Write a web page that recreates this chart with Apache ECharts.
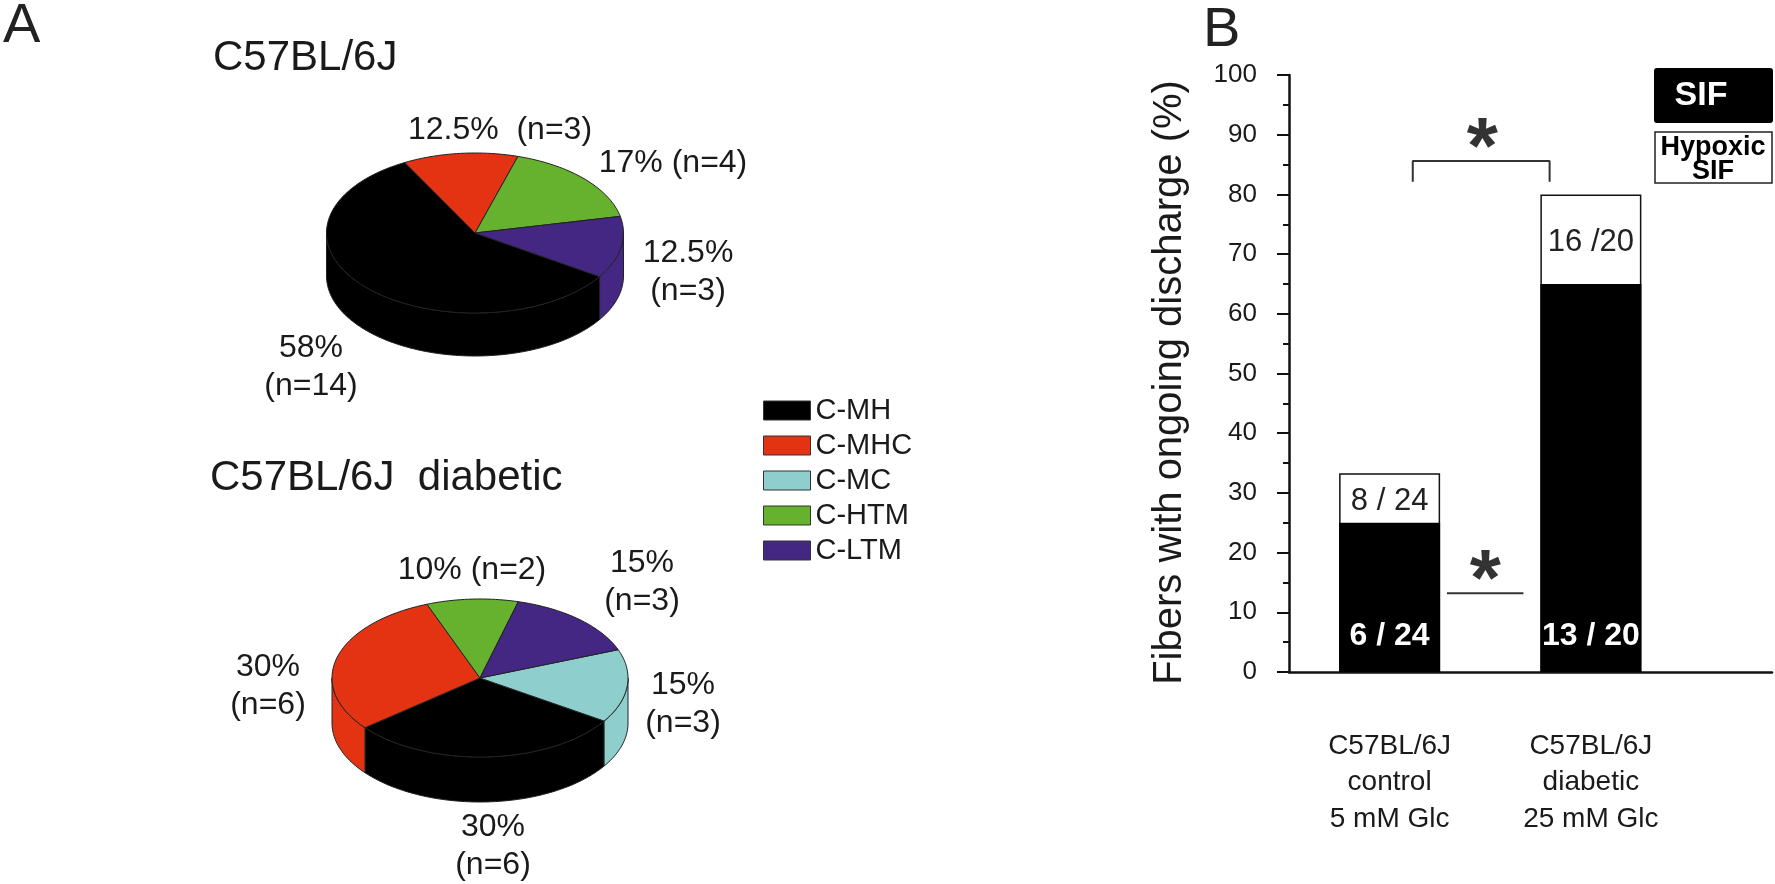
<!DOCTYPE html>
<html><head><meta charset="utf-8">
<script src="https://cdn.jsdelivr.net/npm/echarts@6/dist/echarts.min.js"></script>
<style>html,body{margin:0;padding:0;background:#fff}#main{width:1775px;height:884px}</style>
</head><body><div id="main"></div>
<script>
// ---------------- DATA ----------------
const pieCategories = ['C-MH', 'C-MHC', 'C-MC', 'C-HTM', 'C-LTM'];
const sliceOrder = ['C-MH', 'C-MHC', 'C-HTM', 'C-LTM', 'C-MC']; // clockwise drawing order
const pie1Title = 'C57BL/6J';
const pie1Pct = [58, 12.5, 0, 17, 12.5];
const pie1N = [14, 3, 0, 4, 3];
const pie2Title = 'C57BL/6J  diabetic';
const pie2Pct = [30, 30, 15, 10, 15];
const pie2N = [6, 6, 3, 2, 3];

const barGroups = ['C57BL/6J\ncontrol\n5 mM Glc', 'C57BL/6J\ndiabetic\n25 mM Glc'];
const barPositions = [1, 3];
const hypoxicSIF = [33.3, 80];
const sif = [25, 65];
const sifLabels = ['6 / 24', '13 / 20'];
const hypoxicLabels = ['8 / 24', '16 /20'];
const barSeriesNames = ['SIF', 'Hypoxic\nSIF'];
const yAxisTitle = 'Fibers with ongoing discharge (%)';
const sigBracket = [[1.23, 82.1], [1.23, 85.6], [2.59, 85.6], [2.59, 82.1]];
const sigLine = [[1.57, 13.2], [2.33, 13.2]];
const sigStars = [[1.92, 90.3], [1.95, 17.9]];
const panelLetters = ['A', 'B'];

// ---------------- STYLE / LAYOUT ----------------
const FONT = '"Liberation Sans", Arial, Helvetica, sans-serif';
const TXT = '#1a1a1a';
const pieColors = ['#000000', '#e33312', '#8ecfcd', '#66b22f', '#442683'];
const pie1Geom = { cx: 475, cy: 233, rx: 148.5, ry: 80, depth: 43, start: -33 };
const pie2Geom = { cx: 480, cy: 678, rx: 148, ry: 79, depth: 45, start: -33 };
const pie1LabelPos = {
  'C-MH': { x: 311, y: 329, sep: '\n' },
  'C-MHC': { x: 500, y: 111, sep: '  ' },
  'C-HTM': { x: 673, y: 144, sep: ' ' },
  'C-LTM': { x: 688, y: 234, sep: '\n' },
  'C-MC': { x: 0, y: 0, sep: ' ' }
};
const pie2LabelPos = {
  'C-MH': { x: 493, y: 808, sep: '\n' },
  'C-MHC': { x: 268, y: 648, sep: '\n' },
  'C-HTM': { x: 472, y: 551, sep: ' ' },
  'C-LTM': { x: 642, y: 544, sep: '\n' },
  'C-MC': { x: 683, y: 666, sep: '\n' }
};
const hypLabelDist = [13, 33];
const STAR_FS = 80;

function makePie(g, pct, nArr, labelPos) {
  const total = pct.reduce((a, b) => a + b, 0);
  const ang = {};
  let a = g.start;
  sliceOrder.forEach(name => {
    const i = pieCategories.indexOf(name);
    const sweep = pct[i] / total * 360;
    ang[i] = [a, a - sweep];
    a -= sweep;
  });
  const pt = (t, dy) => [g.cx + g.rx * Math.cos(t * Math.PI / 180), g.cy - g.ry * Math.sin(t * Math.PI / 180) + dy];
  const arc = (s, e, dy) => {
    const pts = [];
    const n = Math.max(2, Math.ceil(Math.abs(s - e) / 1.5));
    for (let k = 0; k <= n; k++) pts.push(pt(s + (e - s) * k / n, dy));
    return pts;
  };
  return {
    type: 'custom', coordinateSystem: 'none', silent: true, z: 3,
    data: pct.map((v, i) => ({ name: pieCategories[i], value: v })),
    renderItem: (params, api) => {
      const i = params.dataIndex;
      if (!pct[i]) return null;
      const [s, e] = ang[i];
      const col = pieColors[i];
      const children = [];
      [-1, 0, 1].forEach(k => {
        const fs = Math.min(s, 360 * k), fe = Math.max(e, -180 + 360 * k);
        if (fs > fe) {
          const top = arc(fs, fe, 0), bot = arc(fe, fs, g.depth);
          children.push({ type: 'polygon', shape: { points: top.concat(bot) },
            style: { fill: col, stroke: '#222', lineWidth: 1 } });
        }
      });
      children.push({ type: 'polygon', shape: { points: [[g.cx, g.cy]].concat(arc(s, e, 0)) },
        style: { fill: col, stroke: '#222', lineWidth: 1 } });
      const L = labelPos[pieCategories[i]];
      children.push({ type: 'text', style: {
        text: pct[i] + '%' + L.sep + '(n=' + nArr[i] + ')', x: L.x, y: L.y,
        align: 'center', verticalAlign: 'top', fontSize: 32, lineHeight: 38,
        fontFamily: FONT, fill: TXT } });
      return { type: 'group', children };
    }
  };
}

const chart = echarts.init(document.getElementById('main'), null, { renderer: 'canvas' });

const legendSeries = pieCategories.map((name, i) => ({
  type: 'custom', name, coordinateSystem: 'none', data: [], renderItem: () => null,
  itemStyle: { color: pieColors[i] }
}));

const option = {
  backgroundColor: '#fff',
  animation: false,
  textStyle: { fontFamily: FONT },
  legend: {
    data: pieCategories, orient: 'vertical', left: 758, top: 391,
    itemWidth: 47, itemHeight: 19, itemGap: 6, icon: 'rect', selectedMode: false,
    itemStyle: { borderColor: '#333', borderWidth: 1 },
    textStyle: { fontSize: 29, lineHeight: 20, color: TXT, fontFamily: FONT }
  },
  grid: { left: 1289, right: 3, top: 75, bottom: 212, containLabel: false },
  xAxis: {
    type: 'value', min: 0, max: 4.8, interval: 1,
    axisLine: { show: true, lineStyle: { color: '#111', width: 2.5 } },
    axisTick: { show: false }, splitLine: { show: false },
    axisLabel: {
      show: true, margin: 56, fontSize: 28, lineHeight: 36.5, color: TXT, fontFamily: FONT,
      showMinLabel: true, showMaxLabel: true,
      formatter: v => { const k = barPositions.indexOf(v); return k >= 0 ? barGroups[k] : ''; }
    }
  },
  yAxis: {
    type: 'value', min: 0, max: 100, interval: 10,
    name: yAxisTitle, nameLocation: 'middle', nameGap: 99, nameRotate: 90,
    nameTextStyle: { fontSize: 40, color: TXT, fontFamily: FONT, padding: [0, 18, 0, 0] },
    axisLine: { show: true, lineStyle: { color: '#111', width: 2.5 } },
    axisTick: { show: true, length: 12, lineStyle: { color: '#111', width: 2 } },
    minorTick: { show: true, splitNumber: 2, length: 6, lineStyle: { color: '#111', width: 2 } },
    splitLine: { show: false },
    axisLabel: { margin: 32, fontSize: 26, color: TXT, fontFamily: FONT }
  },
  graphic: [
    { type: 'text', style: { text: panelLetters[0], x: 3, y: 27, verticalAlign: 'middle', fontSize: 56, fill: '#222', fontFamily: FONT } },
    { type: 'text', style: { text: panelLetters[1], x: 1203, y: 31, verticalAlign: 'middle', fontSize: 56, fill: '#222', fontFamily: FONT } },
    { type: 'text', style: { text: pie1Title, x: 213, y: 58, verticalAlign: 'middle', fontSize: 42, fill: TXT, fontFamily: FONT } },
    { type: 'text', style: { text: pie2Title, x: 210, y: 478, verticalAlign: 'middle', fontSize: 42, fill: TXT, fontFamily: FONT } },
    { type: 'rect', shape: { x: 1654, y: 68, width: 119, height: 55, r: 3 }, style: { fill: '#000' } },
    { type: 'text', style: { text: barSeriesNames[0], x: 1701, y: 96, align: 'center', verticalAlign: 'middle', fontSize: 34, fontWeight: 'bold', fill: '#fff', fontFamily: FONT } },
    { type: 'rect', shape: { x: 1655, y: 132, width: 117, height: 51 }, style: { fill: '#fff', stroke: '#222', lineWidth: 1.5 } },
    { type: 'text', style: { text: barSeriesNames[1], x: 1713, y: 160, align: 'center', verticalAlign: 'middle', fontSize: 27, lineHeight: 24, fontWeight: 'bold', fill: '#000', fontFamily: FONT } }
  ],
  series: [
    makePie(pie1Geom, pie1Pct, pie1N, pie1LabelPos),
    makePie(pie2Geom, pie2Pct, pie2N, pie2LabelPos),
    ...legendSeries,
    {
      type: 'bar', name: barSeriesNames[1], barWidth: 101, barGap: '-100%', z: 2,
      data: barPositions.map((x, i) => ({ value: [x, hypoxicSIF[i]], label: { distance: hypLabelDist[i] } })),
      itemStyle: { color: '#fff', borderColor: '#111', borderWidth: 1.5 },
      label: { show: true, position: 'insideTop', fontSize: 31, color: '#222', fontFamily: FONT,
        formatter: p => hypoxicLabels[p.dataIndex] }
    },
    {
      type: 'bar', name: barSeriesNames[0], barWidth: 101, barGap: '-100%', z: 3,
      data: barPositions.map((x, i) => [x, sif[i]]),
      itemStyle: { color: '#000' },
      label: { show: true, position: 'insideBottom', distance: 20, fontSize: 32, fontWeight: 'bold',
        color: '#fff', fontFamily: FONT, formatter: p => sifLabels[p.dataIndex] }
    },
    { type: 'line', data: sigBracket, symbol: 'none', silent: true, z: 4,
      lineStyle: { color: '#333', width: 2 } },
    { type: 'line', data: sigLine, symbol: 'none', silent: true, z: 4,
      lineStyle: { color: '#333', width: 2 } },
    { type: 'scatter', data: sigStars, symbolSize: 2, silent: true, z: 5,
      itemStyle: { color: 'rgba(0,0,0,0)' },
      label: { show: true, position: 'inside', formatter: '*', fontSize: STAR_FS, fontWeight: 'bold',
        color: '#000', fontFamily: FONT, offset: [0, Math.round(STAR_FS * 0.22)] } }
  ]
};
chart.setOption(option);
</script></body></html>
